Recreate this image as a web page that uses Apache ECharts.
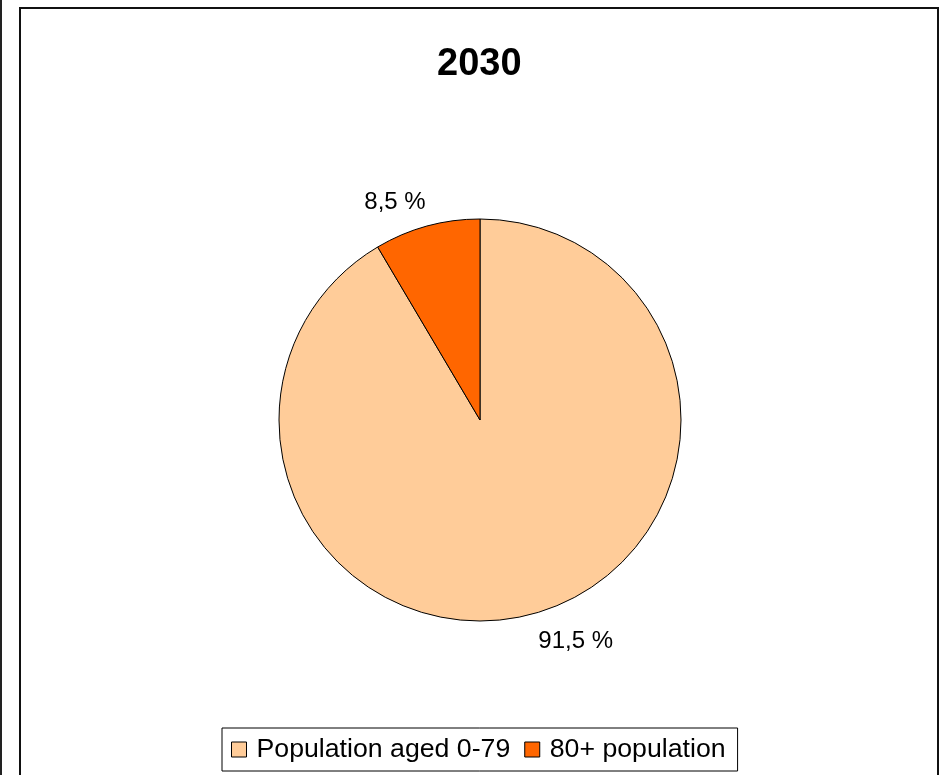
<!DOCTYPE html>
<html>
<head>
<meta charset="utf-8">
<script src="https://cdn.jsdelivr.net/npm/echarts@6/dist/echarts.min.js"></script>
<style>
html,body{margin:0;padding:0;background:#fff;width:939px;height:775px;overflow:hidden;}
#edge{position:absolute;left:0;top:0;width:2px;height:775px;background:#222;}
#frame{position:absolute;left:19px;top:7px;width:920px;height:780px;border:2px solid #111;box-sizing:border-box;}
#chart{position:absolute;left:0;top:0;width:939px;height:775px;}
</style>
</head>
<body>
<div id="edge"></div>
<div id="frame"></div>
<div id="chart"></div>
<script>
var title = '2030';
var categories = ['Population aged 0-79', '80+ population'];
var values = [91.5, 8.5];
var colors = ['#FFCC99', '#FF6600'];
// small nudges so the outside labels sit where the original put them
var labelShift = [[-5,8],[9,-4]];

var dat = [];
for(var i=0;i<categories.length;i++){
	dat.push({name:categories[i], value:values[i], itemStyle:{color:colors[i]}});
}

var option = {
	animation:false,
	title:{
		text:title,
		left:432,
		top:41,
		textStyle:{fontFamily:'Liberation Sans, Arial',fontSize:38,fontWeight:'bold',color:'#000'}
	},
	legend:{
		bottom:4,
		left:222,
		itemWidth:15,
		itemHeight:15,
		itemGap:14,
		padding:[8,12,8,9],
		borderColor:'#000',
		borderWidth:1,
		icon:'rect',
		itemStyle:{borderColor:'#000',borderWidth:1},
		textStyle:{fontFamily:'Liberation Sans, Arial',fontSize:26.7,color:'#000',padding:[0,0,0,5]},
		data:categories
	},
	series:[{
		type:'pie',
		center:[480,420],
		radius:201,
		startAngle:90,
		clockwise:true,
		itemStyle:{borderColor:'#000',borderWidth:1},
		label:{
			show:true,
			position:'outside',
			formatter:function(p){ return p.value.toFixed(1).replace('.',',') + ' %'; },
			fontFamily:'Liberation Sans, Arial',
			fontSize:24,
			color:'#000'
		},
		labelLine:{show:false,length:20,length2:0},
		labelLayout:function(p){
			var s = labelShift[p.dataIndex];
			return {dx:s[0],dy:s[1]};
		},
		emphasis:{disabled:true},
		data:dat
	}]
};

var myChart = echarts.init(document.getElementById('chart'));
myChart.setOption(option);
</script>
</body>
</html>
